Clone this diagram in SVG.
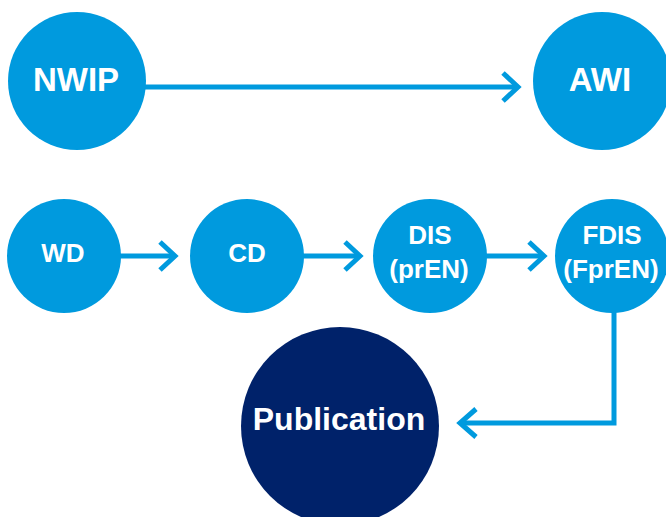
<svg xmlns="http://www.w3.org/2000/svg" width="666" height="517" viewBox="0 0 666 517">
<style>
.n{fill:#009ADE}
.p{fill:#00226A}
.t{font-family:"Liberation Sans",Arial,sans-serif;font-weight:bold;fill:#fff;text-anchor:middle}
.c{fill:none;stroke:#009ADE;stroke-width:5}
</style>
<rect width="666" height="517" fill="#fff"/>
<g id="connectors">
<path class="c" d="M145 87H518"/><path class="c" d="M503 73L518 87L503 101"/>
<path class="c" d="M120 256H175"/><path class="c" d="M160 242L175 256L160 270"/>
<path class="c" d="M302 256H360"/><path class="c" d="M345 242L360 256L345 270"/>
<path class="c" d="M485 256H544"/><path class="c" d="M529 242L544 256L529 270"/>
<path class="c" d="M614 310V423H460"/><path class="c" d="M476 409L460 423L476 437"/>
</g>
<g id="NWIP"><circle class="n" cx="77" cy="81" r="69"/><text class="t" x="76" y="91" font-size="33">NWIP</text></g>
<g id="AWI"><circle class="n" cx="602" cy="81" r="69"/><text class="t" x="600" y="91" font-size="33">AWI</text></g>
<g id="WD"><circle class="n" cx="64" cy="256" r="57"/><text class="t" x="63" y="262" font-size="26">WD</text></g>
<g id="CD"><circle class="n" cx="247" cy="256" r="57"/><text class="t" x="247" y="262" font-size="26">CD</text></g>
<g id="DIS"><circle class="n" cx="430" cy="256" r="57"/><text class="t" x="430" y="244" font-size="26">DIS</text><text class="t" x="429" y="278" font-size="26">(prEN)</text></g>
<g id="FDIS"><circle class="n" cx="612" cy="256" r="57"/><text class="t" x="612" y="244" font-size="26">FDIS</text><text class="t" x="611" y="278" font-size="26">(FprEN)</text></g>
<g id="Publication"><circle class="p" cx="340" cy="426" r="99"/><text class="t" x="339" y="430" font-size="32">Publication</text></g>
</svg>
